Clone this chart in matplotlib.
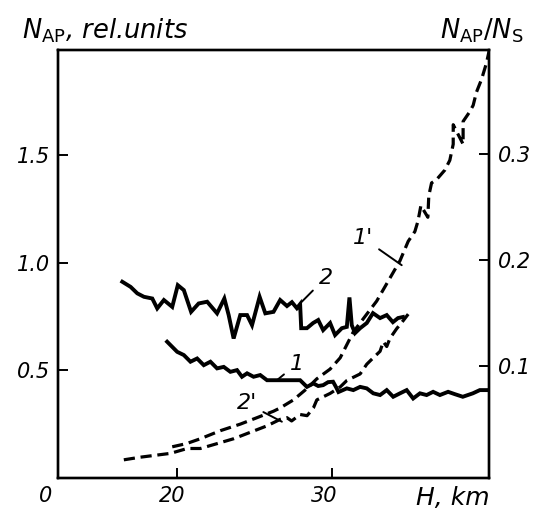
import matplotlib
matplotlib.use('Agg')
import matplotlib.pyplot as plt

plt.rcParams['font.family'] = 'DejaVu Sans'
plt.rcParams['mathtext.fontset'] = 'dejavusans'

# curve 2 (solid, left axis, rel. units)
h2 = [16.45, 16.99, 17.42, 17.85, 18.39, 18.71, 19.14, 19.68, 20.04, 20.43,
      20.90, 21.39, 21.94, 22.58, 23.05, 23.33, 23.65, 24.08, 24.52, 24.84,
      25.33, 25.70, 26.23, 26.66, 27.10, 27.42, 27.74, 27.95, 28.02, 28.39,
      28.79, 29.12, 29.44, 29.89, 30.21, 30.65, 30.97, 31.14, 31.29, 31.50,
      31.83, 32.26, 32.66, 33.12, 33.55, 33.95, 34.28, 34.60]
n2 = [0.911, 0.887, 0.857, 0.841, 0.833, 0.787, 0.826, 0.794, 0.895, 0.872,
      0.771, 0.810, 0.818, 0.764, 0.833, 0.756, 0.647, 0.756, 0.756, 0.709,
      0.841, 0.764, 0.771, 0.826, 0.798, 0.816, 0.788, 0.807, 0.695, 0.695,
      0.719, 0.733, 0.686, 0.719, 0.663, 0.695, 0.701, 0.838, 0.709, 0.672,
      0.695, 0.719, 0.765, 0.742, 0.756, 0.723, 0.742, 0.747]

# curve 1 (solid, left axis)
h1 = [19.35, 20.00, 20.43, 20.86, 21.29, 21.72, 22.15, 22.58, 23.01, 23.44,
      23.87, 24.19, 24.52, 24.94, 25.37, 25.81, 26.23, 26.66, 27.95, 28.39,
      28.81, 29.12, 29.44, 29.76, 30.08, 30.28, 30.43, 30.97, 31.39, 31.83,
      32.26, 32.68, 33.12, 33.55, 33.97, 34.41, 34.84, 35.26, 35.70, 36.13,
      36.55, 36.99, 37.52, 37.96, 38.47, 39.12, 39.57, 40.15]
n1 = [0.632, 0.585, 0.570, 0.539, 0.554, 0.523, 0.539, 0.508, 0.515, 0.492,
      0.500, 0.469, 0.485, 0.469, 0.477, 0.453, 0.453, 0.453, 0.453, 0.422,
      0.438, 0.426, 0.430, 0.444, 0.446, 0.420, 0.398, 0.415, 0.407, 0.422,
      0.415, 0.392, 0.384, 0.407, 0.376, 0.392, 0.407, 0.368, 0.392, 0.384,
      0.399, 0.384, 0.399, 0.388, 0.376, 0.392, 0.407, 0.407]

# curve 1' (dashed, right axis, N_AP/N_S)
h1p = [19.68, 20.60, 21.50, 22.79, 24.08, 25.16, 26.23, 26.66, 27.52, 28.39,
       29.03, 29.89, 30.54, 31.39, 32.90, 34.41, 34.94, 35.37, 35.57, 35.76,
       36.21, 36.27, 36.45, 36.77, 37.31, 37.63, 37.85, 37.85, 38.49, 38.49,
       38.92, 39.14, 39.35, 39.68, 40.00, 40.18]
r1p = [0.0236, 0.0266, 0.0312, 0.0388, 0.0450, 0.0511, 0.0572, 0.0603, 0.0679, 0.0786,
       0.0878, 0.0970, 0.1076, 0.1321, 0.1612, 0.1994, 0.2177, 0.2269, 0.2367, 0.2514,
       0.2404, 0.2606, 0.2728, 0.2759, 0.2850, 0.2942, 0.3094, 0.3278, 0.3094, 0.3309,
       0.3401, 0.3461, 0.3584, 0.3706, 0.3860, 0.3980]

# curve 2' (dashed, right axis)
h2p = [16.55, 17.63, 18.60, 19.57, 20.65, 21.50, 22.58, 23.65, 24.73, 25.81,
       26.66, 27.10, 27.40, 27.95, 28.40, 28.81, 29.03, 29.89, 30.54, 30.97,
       31.83, 32.26, 32.58, 33.12, 33.33, 33.55, 33.76, 34.19, 34.62, 34.94]
r2p = [0.0113, 0.0138, 0.0156, 0.0174, 0.0220, 0.0220, 0.0266, 0.0312, 0.0373, 0.0434,
       0.0495, 0.0511, 0.0480, 0.0541, 0.0530, 0.0603, 0.0679, 0.0740, 0.0801, 0.0862,
       0.0924, 0.1016, 0.1062, 0.1138, 0.1229, 0.1183, 0.1260, 0.1351, 0.1428, 0.1489]

fig = plt.figure(figsize=(5.43, 5.13), dpi=100)
ax = fig.add_axes([0.107, 0.069, 0.794, 0.834])
ax2 = ax.twinx()

ax.plot(h2, n2, color='black', lw=2.8, solid_joinstyle='miter')
ax.plot(h1, n1, color='black', lw=2.8, solid_joinstyle='miter')
ax2.plot(h1p, r1p, color='black', lw=2.3, dashes=(3.5, 1.8))
ax2.plot(h2p, r2p, color='black', lw=2.3, dashes=(3.5, 1.8))

ax.set_xlim(12.3, 40.18)
ax.set_ylim(0, 1.99)
ax2.set_ylim(-0.0055, 0.3986)

for a in (ax, ax2):
    for s in a.spines.values():
        s.set_linewidth(1.7)

tick_font = dict(fontsize=15, style='italic')
ax.set_xticks([20, 30])
ax.set_xticklabels([])
ax.set_yticks([0.5, 1.0, 1.5])
ax.set_yticklabels(['0.5', '1.0', '1.5'], **tick_font)
ax2.set_yticks([0.1, 0.2, 0.3])
ax2.set_yticklabels(['0.1', '0.2', '0.3'], **tick_font)
ax.tick_params(axis='both', direction='in', length=7, width=1.4, pad=6)
ax2.tick_params(axis='y', direction='in', length=7, width=1.4, pad=6)

# x labels below the frame
ax.text(12.3 - 0.8, -0.085, '0', ha='center', va='center', **tick_font)
ax.text(19.7, -0.085, '20', ha='center', va='center', **tick_font)
ax.text(29.5, -0.085, '30', ha='center', va='center', **tick_font)
ax.text(37.8, -0.095, 'H, km', ha='center', va='center', fontsize=18, style='italic')

fig.text(0.04, 0.94, r'$N_{\mathsf{AP}}$, rel.units', ha='left', va='center',
         fontsize=18.5, style='italic')
fig.text(0.965, 0.94, r'$N_{\mathsf{AP}}/N_{\mathsf{S}}$', ha='right', va='center',
         fontsize=18.5)

# curve labels with leader lines
lab = dict(fontsize=16, style='italic', ha='center', va='center',
           arrowprops=dict(arrowstyle='-', lw=1.4, color='black', shrinkA=3, shrinkB=0))
ax.annotate('2', xy=(27.95, 0.81), xytext=(29.6, 0.93), **lab)
ax.annotate('1', xy=(26.45, 0.453), xytext=(27.75, 0.53), **lab)
ax.annotate("1'", xy=(34.52, 0.988), xytext=(32.0, 1.115), **lab)
ax.annotate("2'", xy=(26.77, 0.26), xytext=(24.5, 0.345), **lab)

fig.savefig('out.png', dpi=100)
